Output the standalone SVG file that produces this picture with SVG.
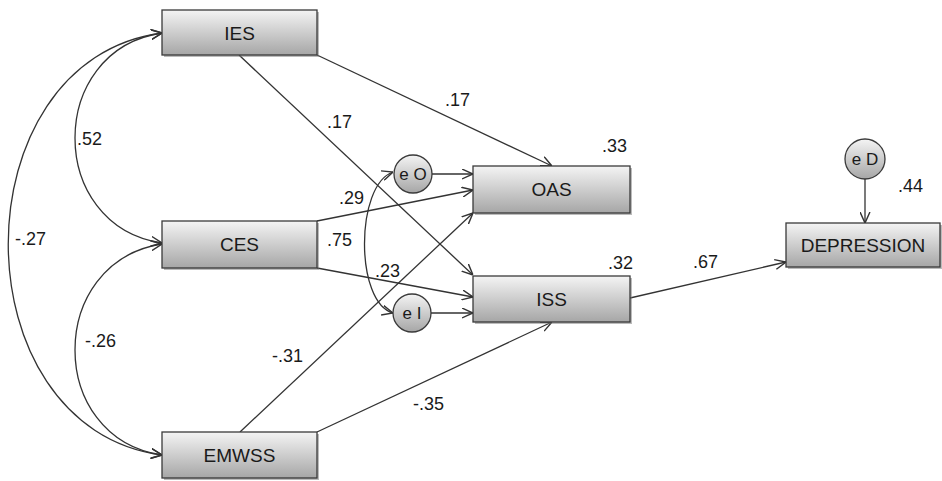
<svg xmlns="http://www.w3.org/2000/svg" width="942" height="481" viewBox="0 0 942 481">
<defs>
  <linearGradient id="g" x1="0" y1="0" x2="0" y2="1">
    <stop offset="0" stop-color="#f4f4f4"/>
    <stop offset="1" stop-color="#a6a6a6"/>
  </linearGradient>
  <marker id="a" viewBox="0 0 10 10" refX="10" refY="5" markerWidth="11" markerHeight="11" markerUnits="userSpaceOnUse" orient="auto-start-reverse">
    <path d="M0,0.5 L10,5 L0,9.5" fill="none" stroke="#333" stroke-width="1.3"/>
  </marker>
</defs>
<style>
  .box{fill:url(#g);stroke:#3a3a3a;stroke-width:1.3}
  .sh{fill:#777;opacity:0.5}
  .c{fill:url(#g);stroke:#3a3a3a;stroke-width:1.3}
  .lbl{font-family:"Liberation Sans",Arial,sans-serif;font-size:19px;fill:#1a1a1a;text-anchor:middle}
  .cl{font-family:"Liberation Sans",Arial,sans-serif;font-size:17px;fill:#1a1a1a;text-anchor:middle}
  .n{font-family:"Liberation Sans",Arial,sans-serif;font-size:18px;fill:#1a1a1a}
  .e{fill:none;stroke:#333;stroke-width:1.3;marker-end:url(#a)}
  .cov{fill:none;stroke:#333;stroke-width:1.3;marker-end:url(#a);marker-start:url(#a)}
</style>
<g id="connectors">
  <path class="cov" d="M162,33 C46,50 46,226 162,243"/>
  <path class="cov" d="M162,33 C-43,60 -43,428 162,455"/>
  <path class="cov" d="M162,244 C46,262 46,438 162,455"/>
  <path class="cov" d="M393,172 C355,185 355,303 393,313"/>
  <line class="e" x1="317" y1="55" x2="552" y2="166"/>
  <line class="e" x1="239" y1="55" x2="473" y2="275"/>
  <line class="e" x1="317" y1="221" x2="473" y2="190"/>
  <line class="e" x1="317" y1="268" x2="473" y2="297"/>
  <line class="e" x1="240" y1="432" x2="473" y2="213"/>
  <line class="e" x1="317" y1="432" x2="552" y2="322"/>
  <line class="e" x1="432" y1="174" x2="473" y2="174"/>
  <line class="e" x1="431" y1="313" x2="473" y2="313"/>
  <line class="e" x1="865" y1="179" x2="865" y2="223"/>
  <line class="e" x1="630" y1="298" x2="786" y2="262"/>
  <text class="n" x="445" y="106">.17</text>
  <text class="n" x="327" y="128">.17</text>
  <text class="n" x="77" y="145">.52</text>
  <text class="n" x="15" y="245">-.27</text>
  <text class="n" x="602" y="152">.33</text>
  <text class="n" x="339" y="204">.29</text>
  <text class="n" x="327" y="246">.75</text>
  <text class="n" x="375" y="277">.23</text>
  <text class="n" x="608" y="269">.32</text>
  <text class="n" x="898" y="192">.44</text>
  <text class="n" x="693" y="268">.67</text>
  <text class="n" x="85" y="347">-.26</text>
  <text class="n" x="272" y="362">-.31</text>
  <text class="n" x="413" y="410">-.35</text>
</g>
<g id="IES"><rect class="sh" x="164" y="12" width="155" height="45"/><rect class="box" x="162" y="10" width="155" height="45"/><text class="lbl" x="239.5" y="40">IES</text></g>
<g id="CES"><rect class="sh" x="164" y="223" width="155" height="47"/><rect class="box" x="162" y="221" width="155" height="47"/><text class="lbl" x="239.5" y="251">CES</text></g>
<g id="EMWSS"><rect class="sh" x="164" y="434" width="155" height="46"/><rect class="box" x="162" y="432" width="155" height="46"/><text class="lbl" x="239.5" y="462">EMWSS</text></g>
<g id="OAS"><rect class="sh" x="475" y="168" width="157" height="47"/><rect class="box" x="473" y="166" width="157" height="47"/><text class="lbl" x="551.5" y="196">OAS</text></g>
<g id="ISS"><rect class="sh" x="475" y="278" width="157" height="46"/><rect class="box" x="473" y="276" width="157" height="46"/><text class="lbl" x="551.5" y="306">ISS</text></g>
<g id="DEPRESSION"><rect class="sh" x="788" y="225" width="154" height="44"/><rect class="box" x="786" y="223" width="154" height="44"/><text class="lbl" x="863" y="252">DEPRESSION</text></g>
<g id="eO"><circle class="c" cx="413" cy="174" r="19"/><text class="cl" x="413" y="180">e O</text></g>
<g id="eI"><circle class="c" cx="412" cy="313" r="19"/><text class="cl" x="412" y="319">e I</text></g>
<g id="eD"><circle class="c" cx="865" cy="159" r="20"/><text class="cl" x="865" y="165">e D</text></g>
</svg>
